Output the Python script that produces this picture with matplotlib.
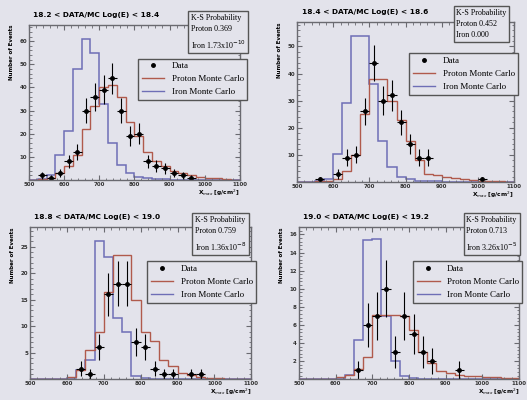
import numpy as np
import matplotlib
matplotlib.use("Agg")
import matplotlib.pyplot as plt
from matplotlib.lines import Line2D

# Xmax bins, 25 g/cm2 wide from 500 to 1100
edges = np.arange(500, 1101, 25)

titles = ["18.2 < DATA/MC Log(E) < 18.4", "18.4 < DATA/MC Log(E) < 18.6",
          "18.8 < DATA/MC Log(E) < 19.0", "19.0 < DATA/MC Log(E) < 19.2"]
ks_proton = ["0.369", "0.452", "0.759", "0.713"]
ks_iron = [r"1.73x10$^{-10}$", "0.000", r"1.36x10$^{-8}$", r"3.26x10$^{-5}$"]

data_tl = [0, 2, 1, 3, 8, 12, 30, 36, 39, 44, 30, 19, 20, 8, 6, 5, 3, 2, 1, 0, 0, 0, 0, 0]
proton_tl = [0, 0.3, 1, 3, 6, 11, 22, 32, 40, 41, 36, 25, 19, 12, 8, 6, 4, 3, 2, 1.5, 1, 0.7, 0.4, 0.2]
iron_tl = [0, 0.5, 2, 11, 21, 48, 61, 55, 33, 16, 6.5, 3, 1.5, 0.8, 0.5, 0.3, 0.2, 0.1, 0, 0, 0, 0, 0, 0]

data_tr = [0, 0, 1, 0, 3, 9, 10, 26, 44, 30, 32, 22, 14, 9, 9, 0, 0, 0, 0, 0, 1, 0, 0, 0]
proton_tr = [0, 0, 0.2, 0.5, 1, 4, 10, 25, 38, 38, 30, 23, 15, 8, 3, 2.5, 2, 1.5, 1, 0.8, 0.5, 0.3, 0.2, 0.1]
iron_tr = [0, 0, 0.3, 1, 10.5, 29, 54, 54, 36, 15, 5.5, 2, 1, 0.5, 0.3, 0.2, 0.1, 0.1, 0, 0, 0, 0, 0, 0]

data_bl = [0, 0, 0, 0, 0, 2, 1, 6, 16, 18, 18, 7, 6, 2, 1, 1, 0, 1, 1, 0, 0, 0, 0, 0]
proton_bl = [0, 0, 0, 0, 0.5, 1.8, 5.5, 9, 16.5, 23.5, 23.5, 15, 9, 7.3, 3.7, 2.4, 1.2, 0.8, 0.5, 0.3, 0.2, 0.1, 0.1, 0]
iron_bl = [0, 0, 0, 0, 0.3, 1.8, 3.7, 26, 23, 11.5, 9, 0.6, 0.3, 0.1, 0, 0, 0, 0, 0, 0, 0, 0, 0, 0]

data_br = [0, 0, 0, 0, 0, 0, 1, 6, 7, 10, 3, 7, 5, 3, 2, 0, 0, 1, 0, 0, 0, 0, 0, 0]
proton_br = [0, 0, 0, 0, 0.2, 0.5, 1.1, 2.5, 7.1, 7.1, 7.1, 7, 5.4, 3, 1.8, 0.9, 0.7, 0.5, 0.4, 0.3, 0.2, 0.2, 0.1, 0.1]
iron_br = [0, 0, 0, 0, 0, 0.5, 4.3, 15.4, 15.5, 7, 2, 0.3, 0.1, 0, 0, 0, 0, 0, 0, 0, 0, 0, 0, 0]

bg = '#e3e3eb'
red = '#b05a4c'
blue = '#6e6eb6'
frame = '#6a6a70'

fig = plt.figure(figsize=(5.27, 4.0), dpi=100, facecolor=bg)

# [left, bottom, width, height], y max, y-tick step, stats box pos, legend pos (figure fraction)
panels = [
    ([0.055, 0.55, 0.40, 0.3875], 67, 10, (0.362, 0.965), (0.478, 0.865), data_tl, proton_tl, iron_tl),
    ([0.564, 0.545, 0.411, 0.40], 59, 10, (0.866, 0.978), (0.992, 0.878), data_tr, proton_tr, iron_tr),
    ([0.057, 0.052, 0.42, 0.38], 28.7, 5, (0.370, 0.460), (0.495, 0.358), data_bl, proton_bl, iron_bl),
    ([0.567, 0.052, 0.418, 0.38], 16.8, 2, (0.885, 0.460), (1.0, 0.358), data_br, proton_br, iron_br),
]

centers = 0.5 * (edges[:-1] + edges[1:])

for i, (pos, ymax, ystep, spos, lpos, dat, prot, iron) in enumerate(panels):
    ax = fig.add_axes(pos, facecolor=bg)
    dat = np.array(dat, dtype=float)
    ax.stairs(iron, edges, color=blue, lw=1.1)
    ax.stairs(prot, edges, color=red, lw=1.0)
    m = dat > 0
    ax.errorbar(centers[m], dat[m], yerr=np.sqrt(dat[m]), xerr=12.5, fmt='o',
                ms=2.5, color='k', elinewidth=0.8, capsize=0)
    ax.set_xlim(500, 1100)
    ax.set_ylim(0, ymax)
    ax.set_xticks(np.arange(500, 1101, 100))
    ax.set_xticks(np.arange(500, 1101, 20), minor=True)
    ax.set_yticks(np.arange(ystep, ymax, ystep))
    ax.set_yticks(np.arange(0, ymax, ystep / 5), minor=True)
    ax.tick_params(which='both', direction='in', top=True, right=True, colors=frame,
                   labelsize=4, labelcolor='#333333', pad=1.5)
    ax.tick_params(which='major', length=3.5)
    ax.tick_params(which='minor', length=1.8)
    for s in ax.spines.values():
        s.set_color(frame)
        s.set_linewidth(1.0)
    for lab in ax.get_xticklabels() + ax.get_yticklabels():
        lab.set_fontweight('bold')
    ax.set_ylabel("Number of Events", fontsize=4, fontweight='bold', loc='top', labelpad=4)
    ax.set_xlabel(r"X$_{max}$ [g/cm$^2$]", fontsize=4.2, fontweight='bold', loc='right', labelpad=0.5)
    ax.set_title(titles[i], fontsize=5.3, fontweight='bold', loc='left', pad=6, x=0.02)

    fig.text(spos[0], spos[1], "K-S Probability\nProton " + ks_proton[i] + "\nIron " + ks_iron[i],
             ha='left', va='top', fontsize=5.8, family='Liberation Serif', linespacing=1.5,
             bbox=dict(boxstyle='square,pad=0.35', fc=bg, ec='#555555', lw=1.0))

    handles = [Line2D([], [], marker='o', ls='none', color='k', ms=2.5),
               Line2D([], [], color=red, lw=1),
               Line2D([], [], color=blue, lw=1)]
    leg = fig.legend(handles, ["Data", "Proton Monte Carlo", "Iron Monte Carlo"],
                     loc='upper right', bbox_to_anchor=lpos,
                     prop={'family': 'Liberation Serif', 'size': 6.5},
                     fancybox=False, framealpha=1, facecolor=bg, edgecolor='#555555',
                     handlelength=2.5, borderpad=0.4, labelspacing=0.5)
    leg.get_frame().set_linewidth(1.0)

plt.savefig("out.png", dpi=100, facecolor=fig.get_facecolor())
